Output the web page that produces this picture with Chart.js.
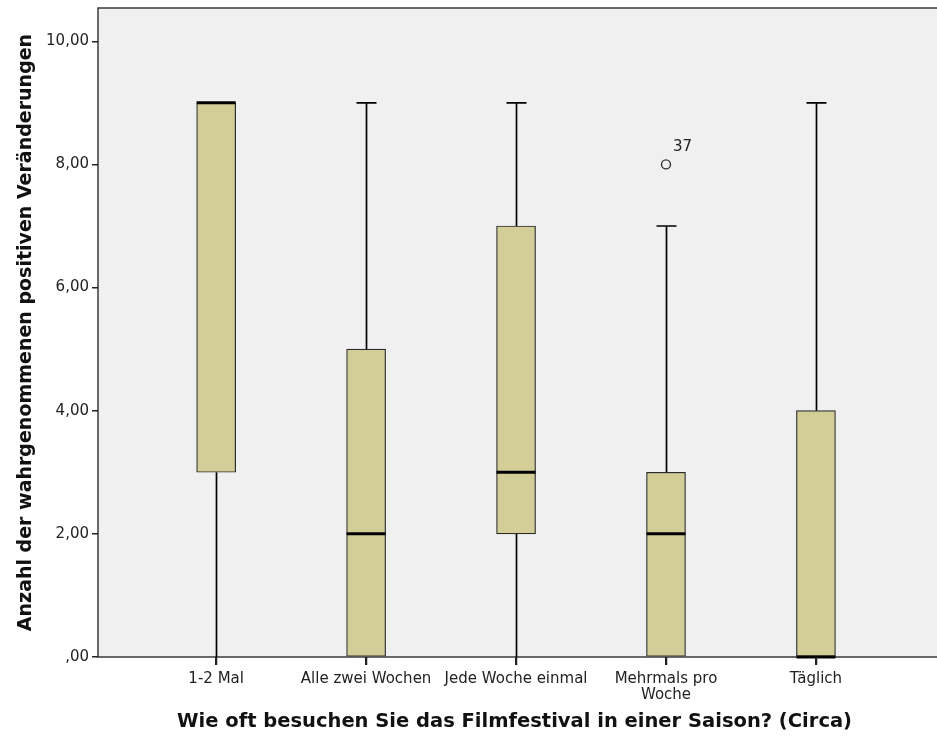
<!DOCTYPE html>
<html>
<head>
<meta charset="utf-8">
<script src="https://cdn.jsdelivr.net/npm/chart.js@4"></script>
<style>
  html, body { margin: 0; padding: 0; background: #fff; }
  #chart-container { width: 937px; height: 751px; }
</style>
</head>
<body>
<div id="chart-container"><canvas id="boxChart"></canvas></div>
<script>
const categories = ['1-2 Mal', 'Alle zwei Wochen', 'Jede Woche einmal', ['Mehrmals pro', 'Woche'], 'Täglich'];
const whiskerLow = [0, 0, 0, 0, 0];
const quartile1 = [3, 0, 2, 0, 0];
const medians = [9, 2, 3, 2, 0];
const quartile3 = [9, 5, 7, 3, 4];
const whiskerHigh = [9, 9, 9, 7, 9];
const outliers = [{ x: 3, y: 8, label: '37' }];
const yTicks = [0, 2, 4, 6, 8, 10];

function formatTick(v) {
  // SPSS style: ",00" for zero, comma decimal otherwise
  if (v === 0) return ',00';
  return v.toFixed(2).replace('.', ',');
}

// plot background, frame and category tick marks
const plotFrame = {
  id: 'plotFrame',
  beforeDraw(chart) {
    const { ctx, chartArea: a } = chart;
    ctx.save();
    ctx.fillStyle = '#f0f0f0';
    ctx.fillRect(a.left, a.top, chart.width - a.left, a.bottom - a.top);
    ctx.strokeStyle = '#3a3a3a';
    ctx.lineWidth = 1.5;
    ctx.beginPath();
    ctx.moveTo(chart.width, a.top);
    ctx.lineTo(a.left, a.top);
    ctx.lineTo(a.left, a.bottom);
    ctx.lineTo(chart.width, a.bottom);
    ctx.stroke();
    ctx.restore();
  },
  afterDraw(chart) {
    const { ctx, chartArea: a } = chart;
    const xs = chart.scales.x;
    ctx.save();
    ctx.strokeStyle = '#222';
    ctx.lineWidth = 1.5;
    ctx.beginPath();
    xs.ticks.forEach(t => {
      const px = Math.round(xs.getPixelForValue(t.value)) + 0.5;
      ctx.moveTo(px, a.bottom);
      ctx.lineTo(px, a.bottom + 8);
    });
    ctx.stroke();
    ctx.restore();
  }
};

// whiskers, caps, medians and outlier labels
const boxParts = {
  id: 'boxParts',
  beforeDatasetsDraw(chart) {
    const { ctx } = chart;
    const xs = chart.scales.x, ys = chart.scales.y;
    const capHalf = 10;
    ctx.save();
    ctx.strokeStyle = '#000';
    ctx.lineWidth = 1.7;
    for (let i = 0; i < categories.length; i++) {
      const cx = Math.round(xs.getPixelForValue(i)) + 0.5;
      if (whiskerHigh[i] > quartile3[i]) {
        const yTop = ys.getPixelForValue(whiskerHigh[i]);
        ctx.beginPath();
        ctx.moveTo(cx, ys.getPixelForValue(quartile3[i]));
        ctx.lineTo(cx, yTop);
        ctx.moveTo(cx - capHalf, yTop);
        ctx.lineTo(cx + capHalf, yTop);
        ctx.stroke();
      }
      if (whiskerLow[i] < quartile1[i]) {
        const yBot = ys.getPixelForValue(whiskerLow[i]);
        ctx.beginPath();
        ctx.moveTo(cx, ys.getPixelForValue(quartile1[i]));
        ctx.lineTo(cx, yBot);
        ctx.stroke();
      }
    }
    ctx.restore();
  },
  afterDatasetsDraw(chart) {
    const { ctx } = chart;
    const xs = chart.scales.x, ys = chart.scales.y;
    const half = 19.5;
    ctx.save();
    ctx.strokeStyle = '#000';
    ctx.lineWidth = 3;
    for (let i = 0; i < categories.length; i++) {
      const cx = xs.getPixelForValue(i);
      const my = ys.getPixelForValue(medians[i]);
      ctx.beginPath();
      ctx.moveTo(cx - half, my);
      ctx.lineTo(cx + half, my);
      ctx.stroke();
    }
    ctx.fillStyle = '#222';
    ctx.font = '15px "DejaVu Sans"';
    ctx.textBaseline = 'middle';
    outliers.forEach(o => {
      ctx.fillText(o.label, xs.getPixelForValue(o.x) + 7, ys.getPixelForValue(o.y) - 17);
    });
    ctx.restore();
  }
};

const ctx = document.getElementById('boxChart').getContext('2d');
new Chart(ctx, {
  type: 'bar',
  data: {
    datasets: [{
      label: 'box',
      data: categories.map((c, i) => ({ x: i, y: [quartile1[i], quartile3[i]] })),
      backgroundColor: '#d3ce98',
      borderColor: '#2a2a2a',
      borderWidth: 1.2,
      borderSkipped: false,
      barThickness: 39
    }, {
      type: 'scatter',
      label: 'outlier',
      data: outliers.map(o => ({ x: o.x, y: o.y })),
      pointRadius: 4.5,
      pointBorderWidth: 1.4,
      pointBorderColor: '#333',
      pointBackgroundColor: 'rgba(0,0,0,0)'
    }]
  },
  options: {
    responsive: true,
    maintainAspectRatio: false,
    animation: false,
    layout: { padding: { top: 8, right: 0, left: 0, bottom: 0 } },
    plugins: { legend: { display: false }, tooltip: { enabled: false } },
    scales: {
      x: {
        type: 'linear',
        offset: false,
        min: -0.788,
        max: 4.768,
        afterBuildTicks(scale) { scale.ticks = categories.map((c, i) => ({ value: i })); },
        afterFit(scale) {
          scale.height = 94;
          scale.paddingLeft = 0;
          scale.paddingRight = 0;
        },
        ticks: {
          autoSkip: false,
          maxRotation: 0,
          padding: 6,
          color: '#222',
          font: { family: 'DejaVu Sans', size: 15, lineHeight: 1.05 },
          callback: (v) => categories[v]
        },
        grid: { drawOnChartArea: false, offset: false, tickLength: 8, color: '#222', lineWidth: 1.5 },
        border: { display: false },
        title: {
          display: true,
          text: 'Wie oft besuchen Sie das Filmfestival in einer Saison? (Circa)',
          color: '#111',
          font: { family: 'DejaVu Sans', size: 19.5, weight: 'bold', lineHeight: 1.2 },
          padding: { top: 0, bottom: 17 }
        }
      },
      y: {
        min: 0,
        max: 10.54,
        afterBuildTicks(scale) { scale.ticks = yTicks.map(v => ({ value: v })); },
        afterFit(scale) {
          scale.width = 98;
          scale.paddingTop = 0;
          scale.paddingBottom = 0;
        },
        ticks: {
          padding: 3,
          color: '#222',
          font: { family: 'DejaVu Sans', size: 15 },
          callback: (v) => formatTick(v)
        },
        grid: { drawOnChartArea: false, tickLength: 6, color: '#222', lineWidth: 1.5 },
        border: { display: false },
        title: {
          display: true,
          text: 'Anzahl der wahrgenommenen positiven Veränderungen',
          color: '#111',
          font: { family: 'DejaVu Sans', size: 19, weight: 'bold', lineHeight: 1.2 },
          padding: { top: 15, bottom: 0 }
        }
      }
    }
  },
  plugins: [plotFrame, boxParts]
});
</script>
</body>
</html>
